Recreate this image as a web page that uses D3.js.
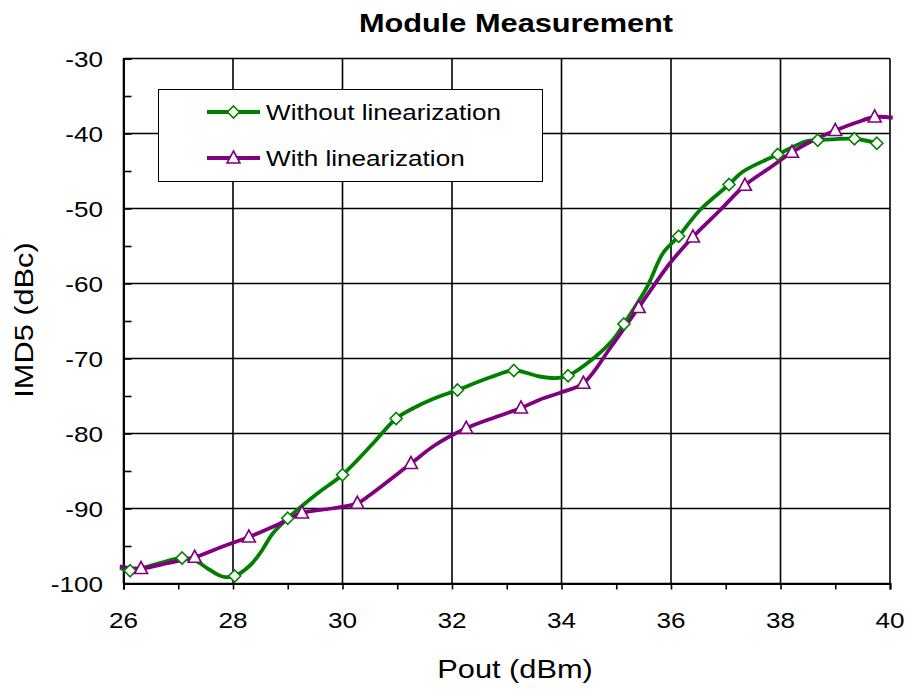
<!DOCTYPE html>
<html>
<head>
<meta charset="utf-8">
<title>Module Measurement</title>
<style>
  body { margin: 0; background: #fff; }
  text { font-family: "Liberation Sans", Arial, sans-serif; }
</style>
</head>
<body>
<script src="https://d3js.org/d3.v7.min.js"></script>
<script>
// data
var xTicks = [26, 28, 30, 32, 34, 36, 38, 40];
var yTicks = [-30, -40, -50, -60, -70, -80, -90, -100];

// line paths (dense points)
var withoutX = [25.93, 26.12, 26.6, 27.07, 27.3, 27.58, 27.82, 28.03, 28.31, 28.5, 28.73, 29.0, 29.54, 30.0, 30.56, 30.98, 31.3, 31.65, 32.1, 32.7, 33.13, 33.6, 33.92, 34.12, 34.58, 34.94, 35.14, 35.56, 35.85, 36.14, 36.53, 37.06, 37.31, 37.95, 38.48, 38.68, 39.35, 39.76];
var withoutY = [-97.9, -98.3, -97.4, -96.6, -96.9, -98.2, -99.1, -99.0, -97.6, -95.9, -93.3, -91.3, -88.0, -85.5, -81.3, -78.0, -76.6, -75.4, -74.2, -72.5, -71.6, -72.4, -72.6, -72.3, -70.0, -67.5, -65.4, -60.5, -56.0, -53.7, -50.2, -46.8, -45.1, -42.8, -41.0, -40.9, -40.7, -41.3];
var withX = [25.93, 26.32, 26.8, 27.3, 27.8, 28.29, 28.8, 29.26, 29.8, 30.27, 30.5, 31.25, 31.7, 32.26, 32.8, 33.26, 33.6, 34.0, 34.4, 34.9, 35.41, 35.98, 36.4, 36.9, 37.35, 37.8, 38.21, 38.6, 39.0, 39.4, 39.72, 40.05];
var withY = [-97.7, -98.0, -97.3, -96.5, -95.1, -93.8, -92.2, -90.6, -90.0, -89.3, -88.2, -84.0, -81.5, -79.3, -77.8, -76.6, -75.5, -74.5, -73.3, -68.5, -63.2, -57.3, -53.8, -50.2, -46.9, -44.6, -42.5, -40.9, -39.6, -38.5, -37.8, -37.9];

// marker positions
var withoutMarkX = [26.12, 27.07, 28.03, 29.0, 30.0, 30.98, 32.1, 33.13, 34.12, 35.14, 36.14, 37.06, 37.95, 38.68, 39.35, 39.76];
var withoutMarkY = [-98.3, -96.6, -99.0, -91.3, -85.5, -78.0, -74.2, -71.6, -72.3, -65.4, -53.7, -46.8, -42.8, -40.9, -40.7, -41.3];
var withMarkX = [26.32, 27.3, 28.29, 29.26, 30.27, 31.25, 32.26, 33.26, 34.4, 35.41, 36.4, 37.35, 38.21, 39.0, 39.72];
var withMarkY = [-98.0, -96.5, -93.8, -90.6, -89.3, -84.0, -79.3, -76.6, -73.3, -63.2, -53.8, -46.9, -42.5, -39.6, -37.8];

var seriesNames = ["Without linearization", "With linearization"];
var colors = ["#008000", "#800080"];

var W = 906, H = 691;
var m = {left: 123.5, right: 16, top: 58.5, bottom: 107.5};
var SX = 1.16; // the original text is a bit wider than Arial

var svg = d3.select("body").append("svg").attr("width", W).attr("height", H);

// text with horizontal stretch
function label(g, tx, ty, str, size, anchor, rot, bold) {
  return g.append("text")
    .attr("transform", "translate(" + tx + "," + ty + ")" + (rot ? " rotate(" + rot + ")" : "") + " scale(" + SX + ",1)")
    .attr("text-anchor", anchor).attr("font-size", size)
    .attr("font-weight", bold ? "bold" : "normal")
    .text(str);
}

var x = d3.scaleLinear().domain([26, 40]).range([m.left, W - m.right]);
var y = d3.scaleLinear().domain([-100, -30]).range([H - m.bottom, m.top]);

svg.append("clipPath").attr("id", "clip").append("rect")
  .attr("x", m.left - 4).attr("y", m.top).attr("width", W - m.right - m.left + 8).attr("height", H - m.bottom - m.top);

// grid
svg.append("g").selectAll("line").data(xTicks).enter().append("line")
  .attr("x1", function(d){ return x(d); }).attr("x2", function(d){ return x(d); })
  .attr("y1", m.top).attr("y2", H - m.bottom)
  .attr("stroke", "#000").attr("stroke-width", 1.6);
svg.append("g").selectAll("line").data(yTicks).enter().append("line")
  .attr("y1", function(d){ return y(d); }).attr("y2", function(d){ return y(d); })
  .attr("x1", m.left).attr("x2", W - m.right)
  .attr("stroke", "#000").attr("stroke-width", 1.6);

// y axis (ticks inside)
var yAxis = d3.axisLeft(y).tickValues(d3.range(-100, -29, 5)).tickSize(-8).tickFormat("");
var gy = svg.append("g").attr("transform", "translate(" + m.left + ",0)").call(yAxis);
gy.select(".domain").attr("stroke-width", 2);
gy.selectAll(".tick line").attr("stroke-width", 1.6);
var gyl = svg.append("g");
yTicks.forEach(function(d){ label(gyl, 103, y(d) + 8, d, 22.5, "end"); });

// x axis (ticks outside)
var xAxis = d3.axisBottom(x).tickValues(d3.range(26, 41, 1)).tickSize(6).tickFormat("");
var gx = svg.append("g").attr("transform", "translate(0," + (H - m.bottom) + ")").call(xAxis);
gx.select(".domain").attr("stroke-width", 2);
gx.selectAll(".tick line").attr("stroke-width", 1.6);
var gxl = svg.append("g");
xTicks.forEach(function(d){ label(gxl, x(d), 628, d, 22.5, "middle"); });

// lines
var line = d3.line().x(function(d){ return x(d[0]); }).y(function(d){ return y(d[1]); })
  .curve(d3.curveCatmullRom.alpha(0.5));
var lineData = [d3.zip(withoutX, withoutY), d3.zip(withX, withY)];
var markData = [d3.zip(withoutMarkX, withoutMarkY), d3.zip(withMarkX, withMarkY)];

var plot = svg.append("g").attr("clip-path", "url(#clip)");
plot.selectAll("path.series").data(lineData).enter().append("path")
  .attr("class", "series")
  .attr("d", line).attr("fill", "none")
  .attr("stroke", function(d, i){ return colors[i]; })
  .attr("stroke-width", 3.8).attr("stroke-linejoin", "round");

var diamond = "M0,-6L6,0L0,6L-6,0Z";
var triangle = "M0,-7L6.5,5L-6.5,5Z";
var shapes = [diamond, triangle];

markData.forEach(function(pts, i){
  svg.append("g").selectAll("path").data(pts).enter().append("path")
    .attr("d", shapes[i])
    .attr("transform", function(d){ return "translate(" + x(d[0]) + "," + y(d[1]) + ")"; })
    .attr("fill", "#fff").attr("stroke", colors[i]).attr("stroke-width", 1.6);
});

// legend
var lg = svg.append("g");
lg.append("rect").attr("x", 158.5).attr("y", 89.5).attr("width", 384).attr("height", 92)
  .attr("fill", "#fff").attr("stroke", "#000").attr("stroke-width", 1);
seriesNames.forEach(function(name, i){
  var ly = 112 + i * 46;
  lg.append("line").attr("x1", 207).attr("x2", 260).attr("y1", ly).attr("y2", ly)
    .attr("stroke", colors[i]).attr("stroke-width", 3.8);
  lg.append("path").attr("d", shapes[i]).attr("transform", "translate(233.5," + ly + ")")
    .attr("fill", "#fff").attr("stroke", colors[i]).attr("stroke-width", 1.6);
  label(lg, 266, ly + 8, name, 22.5, "start");
});

// titles
label(svg, 516, 32, "Module Measurement", 26.5, "middle", 0, true);
label(svg, 515, 678, "Pout (dBm)", 26.5, "middle");
label(svg, 33, 320, "IMD5 (dBc)", 26.5, "middle", -90);
</script>
</body>
</html>
